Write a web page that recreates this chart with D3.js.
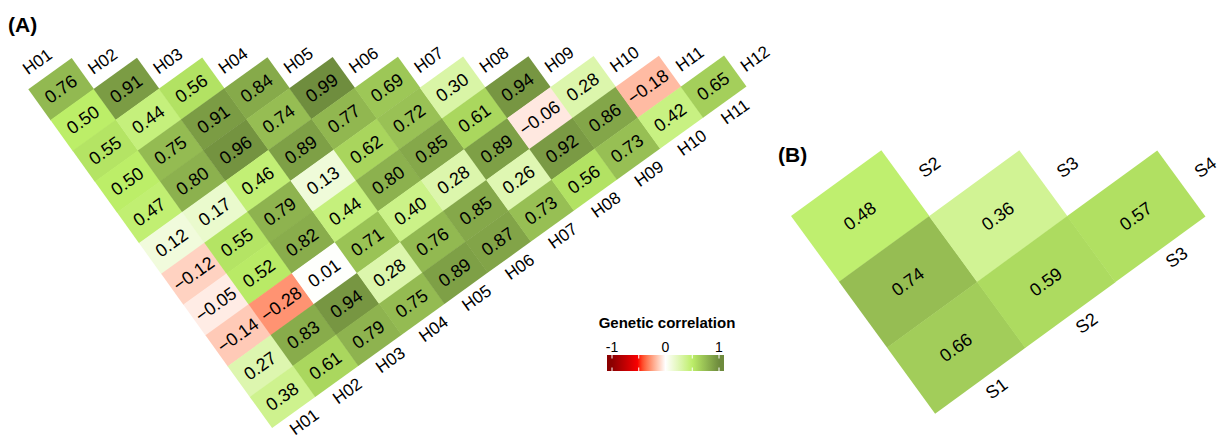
<!DOCTYPE html>
<html>
<head>
<meta charset="utf-8">
<script src="https://cdn.jsdelivr.net/npm/d3@7"></script>
<style>
  html, body { margin: 0; padding: 0; background: #ffffff; }
  svg { display: block; font-family: "Liberation Sans", Arial, Helvetica, sans-serif; }
</style>
</head>
<body>
<svg id="chart" width="1227" height="439"></svg>
<script>
// ---- Panel A: twelve traits, lower triangle of the genetic correlation matrix ----
const traitsA = ["H01", "H02", "H03", "H04", "H05", "H06", "H07", "H08", "H09", "H10", "H11", "H12"];
const colsA = traitsA.slice(0, 11);   // H01 .. H11
const rowsA = traitsA.slice(1);       // H02 .. H12
// corrA[i][j] = correlation of rowsA[i] with colsA[j], j <= i
const corrA = [
  [0.76],
  [0.50, 0.91],
  [0.55, 0.44, 0.56],
  [0.50, 0.75, 0.91, 0.84],
  [0.47, 0.80, 0.96, 0.74, 0.99],
  [0.12, 0.17, 0.46, 0.89, 0.77, 0.69],
  [-0.12, 0.55, 0.79, 0.13, 0.62, 0.72, 0.30],
  [-0.05, 0.52, 0.82, 0.44, 0.80, 0.85, 0.61, 0.94],
  [-0.14, -0.28, 0.01, 0.71, 0.40, 0.28, 0.89, -0.06, 0.28],
  [0.27, 0.83, 0.94, 0.28, 0.76, 0.85, 0.26, 0.92, 0.86, -0.18],
  [0.38, 0.61, 0.79, 0.75, 0.89, 0.87, 0.73, 0.56, 0.73, 0.42, 0.65]
];

// ---- Panel B: four sites ----
const traitsB = ["S1", "S2", "S3", "S4"];
const colsB = traitsB.slice(0, 3);
const rowsB = traitsB.slice(1);
const corrB = [
  [0.48],
  [0.74, 0.36],
  [0.66, 0.59, 0.57]
];

// ---- colour scale and legend ----
const paletteStops = [-1, -0.5, 0, 0.5, 1];
const paletteColors = ["#8B0000", "#FF0000", "#FFFFFF", "#BCEE68", "#6E8B3D"];
const legendBreaks = [-1, -0.5, 0, 0.5, 1];
const legendLabels = ["-1", "", "0", "", "1"];
const legendTitle = "Genetic correlation";

const color = d3.scaleLinear()
  .domain(paletteStops)
  .range(paletteColors)
  .interpolate(d3.interpolateLab)
  .clamp(true);

const fmt = d3.format(".2f");
const svg = d3.select("#chart");

function flatten(rows, cols, corr) {
  const out = [];
  corr.forEach((r, i) => r.forEach((v, j) => out.push({ row: rows[i], col: cols[j], value: v })));
  return out;
}

function drawHeat(cfg) {
  const g = svg.append("g")
    .attr("transform", `translate(${cfg.origin[0]},${cfg.origin[1]}) rotate(${-cfg.angle})`);

  const x = cfg.x, y = cfg.y;
  const W = x.bandwidth(), H = y.bandwidth();
  const cells = flatten(cfg.rows, cfg.cols, cfg.corr);

  g.selectAll("rect.cell")
    .data(cells)
    .join("rect")
    .attr("class", "cell")
    .attr("x", d => x(d.col))
    .attr("y", d => y(d.row))
    .attr("width", W + 0.4)
    .attr("height", H + 0.4)
    .attr("fill", d => color(d.value));

  g.selectAll("text.val")
    .data(cells)
    .join("text")
    .attr("class", "val")
    .attr("x", d => x(d.col) + W / 2)
    .attr("y", d => y(d.row) + H / 2)
    .attr("text-anchor", "middle")
    .attr("dominant-baseline", "central")
    .attr("font-size", cfg.valueSize)
    .attr("fill", "#000")
    .text(d => fmt(d.value));

  // labels along the top edge
  g.selectAll("text.toplab")
    .data(cfg.topLabels)
    .join("text")
    .attr("class", "toplab")
    .attr("x", d => d.x)
    .attr("y", d => d.y)
    .attr("text-anchor", "middle")
    .attr("dominant-baseline", "central")
    .attr("font-size", cfg.labelSize)
    .attr("fill", "#000")
    .text(d => d.label);

  // labels along the lower edge
  const bottom = y.range()[1];
  g.selectAll("text.botlab")
    .data(cfg.cols)
    .join("text")
    .attr("class", "botlab")
    .attr("x", d => x(d) + W / 2 + cfg.bottomShift)
    .attr("y", bottom + cfg.bottomGap)
    .attr("text-anchor", "middle")
    .attr("dominant-baseline", "central")
    .attr("font-size", cfg.labelSize)
    .attr("fill", "#000")
    .text(d => d);
}

// Panel A geometry
const WA = 53.1, HA = 37.9;
const xA = d3.scaleBand().domain(traitsA).range([0, 12 * WA]);
const yA = d3.scaleBand().domain(traitsA).range([-HA, 11 * HA]);
drawHeat({
  origin: [28.3, 89.3],
  angle: 35.75,
  x: xA,
  y: d3.scaleBand().domain(rowsA).range([0, 11 * HA]),
  rows: rowsA, cols: colsA, corr: corrA,
  valueSize: 18, labelSize: 17,
  // trait names sit on the (empty) diagonal
  topLabels: traitsA.map(t => ({ label: t, x: xA(t) + WA / 2 - 3, y: yA(t) + HA / 2 + 2 })),
  bottomShift: 3, bottomGap: 14.5
});

// Panel B geometry
const WB = 111.4, HB = 81.4;
const xB = d3.scaleBand().domain(colsB).range([0, 3 * WB]);
const yB = d3.scaleBand().domain(rowsB).range([0, 3 * HB]);
drawHeat({
  origin: [791, 216],
  angle: 36.1,
  x: xB,
  y: yB,
  rows: rowsB, cols: colsB, corr: corrB,
  valueSize: 18, labelSize: 18,
  // site names to the right of the last cell of each row
  topLabels: rowsB.map((r, i) => ({ label: r, x: xB(colsB[i]) + WB / 2 + 85, y: yB(r) + HB / 2 + 1.5 })),
  bottomShift: 8.6, bottomGap: 16.5
});

// panel tags
svg.append("text").attr("x", 8).attr("y", 31.5)
  .attr("font-size", 21).attr("font-weight", "bold").text("(A)");
svg.append("text").attr("x", 778).attr("y", 161.5)
  .attr("font-size", 21).attr("font-weight", "bold").text("(B)");

// ---- colour bar legend ----
const leg = svg.append("g");
const lx = d3.scaleLinear().domain([-1, 1]).range([612, 719]);
const barX0 = 607, barX1 = 724, barY = 355, barH = 16;

const defs = svg.append("defs");
const grad = defs.append("linearGradient").attr("id", "corrGrad")
  .attr("gradientUnits", "userSpaceOnUse")
  .attr("x1", barX0).attr("x2", barX1).attr("y1", 0).attr("y2", 0);
d3.range(0, 1.0001, 0.02).forEach(t => {
  const px = barX0 + t * (barX1 - barX0);
  grad.append("stop").attr("offset", t).attr("stop-color", color(lx.invert(px)));
});

leg.append("rect")
  .attr("x", barX0).attr("y", barY)
  .attr("width", barX1 - barX0).attr("height", barH)
  .attr("fill", "url(#corrGrad)");

leg.selectAll("line.tt")
  .data(legendBreaks)
  .join("line")
  .attr("class", "tt")
  .attr("x1", d => lx(d)).attr("x2", d => lx(d))
  .attr("y1", barY).attr("y2", barY + 3.5)
  .attr("stroke", "#fff").attr("stroke-width", 1);
leg.selectAll("line.tb")
  .data(legendBreaks)
  .join("line")
  .attr("class", "tb")
  .attr("x1", d => lx(d)).attr("x2", d => lx(d))
  .attr("y1", barY + barH - 3.5).attr("y2", barY + barH)
  .attr("stroke", "#fff").attr("stroke-width", 1);

leg.selectAll("text.tl")
  .data(legendBreaks.map((b, i) => ({ b, label: legendLabels[i] })).filter(d => d.label !== ""))
  .join("text")
  .attr("class", "tl")
  .attr("x", d => lx(d.b))
  .attr("y", 352)
  .attr("text-anchor", "middle")
  .attr("font-size", 14)
  .attr("fill", "#000")
  .text(d => d.label);

leg.append("text")
  .attr("x", 667).attr("y", 328)
  .attr("text-anchor", "middle")
  .attr("font-size", 15)
  .attr("font-weight", "bold")
  .text(legendTitle);
</script>
</body>
</html>
